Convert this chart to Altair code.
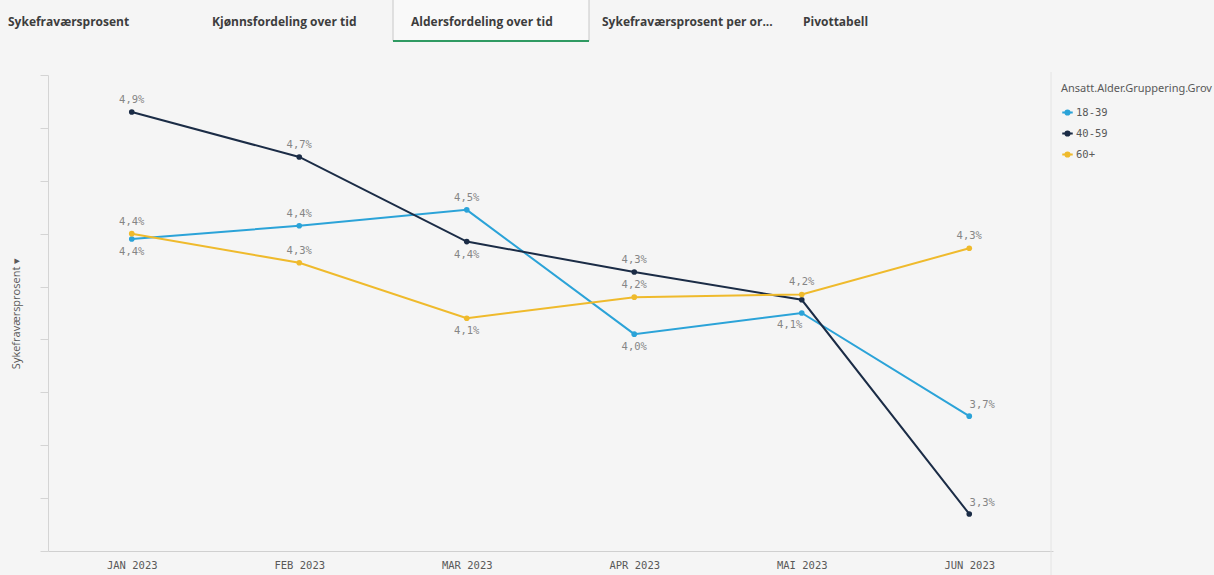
import altair as alt
import pandas as pd

months = ["JAN 2023", "FEB 2023", "MAR 2023", "APR 2023", "MAI 2023", "JUN 2023"]
groups = ["18-39", "40-59", "60+"]
v_18_39 = [4.38, 4.43, 4.49, 4.02, 4.10, 3.71]
v_40_59 = [4.86, 4.69, 4.37, 4.255, 4.15, 3.34]
v_60p = [4.40, 4.29, 4.08, 4.16, 4.17, 4.345]
# label placement per point: "a" above, "b" below, "ar" above-right, "bl" below-left, "" hidden
lab_18_39 = ["b", "a", "a", "b", "bl", "ar"]
lab_40_59 = ["a", "a", "b", "a", "", "ar"]
lab_60p = ["a", "a", "b", "a", "a", "a"]
tabs = ["Sykefraværsprosent", "Kjønnsfordeling over tid", "Aldersfordeling over tid",
        "Sykefraværsprosent per or...", "Pivottabell"]
colors = ["#2ba3d8", "#1b2c46", "#efba2c"]

rows = []
for g, vals, labs in [("18-39", v_18_39, lab_18_39), ("40-59", v_40_59, lab_40_59), ("60+", v_60p, lab_60p)]:
    for m, v, l in zip(months, vals, labs):
        rows.append({"Måned": m, "Gruppe": g, "v": v, "pos": l})
df = pd.DataFrame(rows)

W, H = 1005, 476
mono = "DejaVu Sans Mono"

x = alt.X("Måned:N", sort=months, scale=alt.Scale(type="point", padding=0.5),
          axis=alt.Axis(title=None, ticks=False, labelAngle=0, labelFont=mono, labelFontSize=10.5,
                        labelColor="#595959", labelPadding=9, domainColor="#d0d0d0", grid=False))
y = alt.Y("v:Q", scale=alt.Scale(domain=[3.2, 5.0], nice=False, zero=False),
          axis=alt.Axis(title="Sykefraværsprosent   ▾", labels=False, values=[3.2 + 0.2 * i for i in range(10)],
                        tickSize=8, tickColor="#d4d4d4", domainColor="#d4d4d4", grid=False,
                        titleFont="Open Sans", titleFontSize=11, titleFontWeight="normal",
                        titleColor="#595959", titlePadding=18))
color = alt.Color("Gruppe:N", scale=alt.Scale(domain=groups, range=colors),
                  legend=alt.Legend(title="Ansatt.Alder.Gruppering.Grov", orient="none", legendX=1013, legendY=8,
                                    titleFont="Noto Sans", titleFontSize=11, titleFontWeight="normal",
                                    titleColor="#595959", titleLimit=400, titlePadding=12,
                                    labelFont=mono, labelFontSize=10.5, labelColor="#595959",
                                    symbolType="M-1,0H1M0.4,0A0.4,0.4 0 1 1 -0.4,0A0.4,0.4 0 1 1 0.4,0Z",
                                    symbolSize=110, symbolStrokeWidth=2, rowPadding=8, labelOffset=2))

base = alt.Chart(df)
lines = base.mark_line(strokeWidth=2).encode(x=x, y=y, color=color)
points = base.mark_point(filled=True, size=32, opacity=1).encode(x=x, y=y, color=color)

lab = base.transform_calculate(
    label="replace(format(datum.v, '.1f'), '.', ',') + '%'"
)
offsets = {"a": (0, -12), "b": (0, 13), "ar": (13, -11), "bl": (-12, 12)}
txt_layers = []
for code, (ddx, ddy) in offsets.items():
    txt_layers.append(
        lab.transform_filter(f"datum.pos == '{code}'").mark_text(
            dx=ddx, dy=ddy, font=mono, fontSize=10.5, color="#858585").encode(x=x, y=y, text="label:N"))

# legend panel separator
sep = alt.Chart(pd.DataFrame({"k": [0]})).mark_rule(color="#e4e4e4", strokeWidth=1).encode(
    x=alt.value(1003), y=alt.value(-3), y2=alt.value(H + 24))

# tab bar
tab_box = alt.Chart(pd.DataFrame({"k": [0]})).mark_rect(fill="#f9f9f9", stroke="#c8c8c8", strokeWidth=1).encode(
    x=alt.value(345), x2=alt.value(541), y=alt.value(-76), y2=alt.value(-34))
tab_line = alt.Chart(pd.DataFrame({"k": [0]})).mark_rule(color="#2f9a62", strokeWidth=2).encode(
    x=alt.value(345), x2=alt.value(541), y=alt.value(-34))
tab_x = [-40, 164, 363, 554, 755]
tab_layers = []
for t, tx in zip(tabs, tab_x):
    tab_layers.append(
        alt.Chart(pd.DataFrame({"t": [t]})).mark_text(
            align="left", baseline="middle", font="Open Sans", fontWeight="bold", fontSize=12,
            color="#3d3d3d").encode(x=alt.value(tx), y=alt.value(-53), text="t:N"))

chart = alt.layer(tab_box, tab_line, *tab_layers, sep, lines, points, *txt_layers).properties(
    width=W, height=H,
    autosize=alt.AutoSizeParams(type="none"),
    padding={"left": 48, "top": 75, "right": 161, "bottom": 24},
).configure(background="#f5f5f5").configure_view(stroke=None)

chart.save("out.html", embed_options={"renderer": "svg", "actions": False})
